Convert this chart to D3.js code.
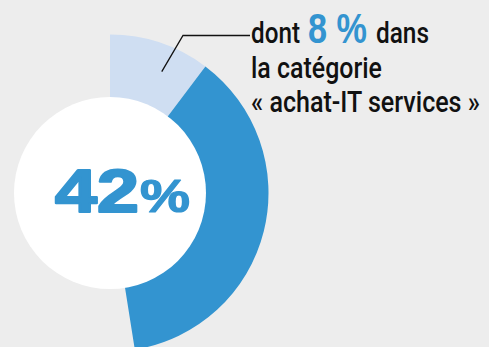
<!DOCTYPE html>
<html>
<head>
<meta charset="utf-8">
<script src="https://cdn.jsdelivr.net/npm/d3@7"></script>
<style>
  html, body { margin: 0; padding: 0; background: #ededed; }
  svg { display: block; }
</style>
</head>
<body>
<svg id="chart" width="489" height="347"></svg>
<script>
// Share of the total, and the part of it that falls in "achat-IT services"
const segmentNames = ["achat-IT services", "autres"];
const segmentEnds = [8, 42];          // cumulative percentages
const totalLabel = ["42", "%"];
const calloutLines = ["la catégorie", "« achat-IT services »"];
const calloutHead = ["dont", "8 %", "dans"];

const W = 489, H = 347;
const cx = 110, cy = 193;
const innerR = 96, outerR = 158.5;
const darkBlue = "#3394d0", lightBlue = "#cfdef2";

const svg = d3.select("#chart");
svg.append("rect").attr("width", W).attr("height", H).attr("fill", "#ededed");

// Angle scale: percentage -> clockwise angle from 12 o'clock
const angle = d3.scaleLinear()
  .domain([0, segmentEnds[0], segmentEnds[1]])
  .range([0, 37 * Math.PI / 180, 171 * Math.PI / 180]);

const arc = d3.arc().innerRadius(innerR - 2).outerRadius(outerR);

const g = svg.append("g").attr("transform", `translate(${cx},${cy})`);

const segments = segmentEnds.map((end, i) => ({
  name: segmentNames[i],
  startAngle: angle(i === 0 ? 0 : segmentEnds[i - 1]),
  endAngle: angle(end)
}));

g.selectAll("path.seg")
  .data(segments)
  .join("path")
  .attr("class", "seg")
  .attr("d", arc)
  .attr("fill", (d, i) => i === 0 ? lightBlue : darkBlue);

// White centre disc
g.append("circle").attr("r", innerR).attr("fill", "#ffffff");

// Text squeezed/stretched horizontally to a given width via a scale transform
function fitText(parent, str, x, y, width, attrs) {
  const t = parent.append("text").attr("x", 0).attr("y", 0);
  Object.entries(attrs).forEach(([k, v]) => t.attr(k, v));
  t.text(str);
  const natural = t.node().getComputedTextLength();
  const sx = width / natural;
  t.attr("transform", `translate(${x},${y}) scale(${sx},1)`);
  return t;
}

// Big total label (stroked to get a heavier weight)
const bold = { "font-family": "Liberation Sans, Arial, sans-serif", "font-weight": "bold",
               fill: darkBlue, stroke: darkBlue, "stroke-linejoin": "round" };
fitText(svg, totalLabel[0], 55, 212, 84, { ...bold, "font-size": 61, "stroke-width": 2.2 });
fitText(svg, totalLabel[1], 140, 212, 50, { ...bold, "font-size": 47, "stroke-width": 1.2 });

// Leader line from the light segment to the callout
const mid = (segments[0].startAngle + segments[0].endAngle) / 2;
const rIn = innerR + 36;
const p0 = [cx + rIn * Math.sin(mid + 0.08), cy - rIn * Math.cos(mid + 0.08)];
svg.append("path")
  .attr("d", d3.line()([p0, [183, 35.5], [250, 35.5]]))
  .attr("fill", "none")
  .attr("stroke", "#111")
  .attr("stroke-width", 1.3);

// Callout text
const narrow = { "font-family": "Roboto, Liberation Sans, Arial, sans-serif",
                 "font-weight": 500, "font-size": 29, fill: "#111" };
const headX = [251, 308, 376];
const headW = [49, 59, 53];
calloutHead.forEach((t, i) => {
  const attrs = i === 1
    ? { "font-family": "Liberation Sans, Arial, sans-serif", "font-weight": "bold",
        "font-size": 42, fill: darkBlue }
    : narrow;
  fitText(svg, t, headX[i], 43, headW[i], attrs);
});
const lineY = [78, 112];
const lineW = [131, 229];
calloutLines.forEach((t, i) => {
  fitText(svg, t, 251, lineY[i], lineW[i], narrow);
});
</script>
</body>
</html>
